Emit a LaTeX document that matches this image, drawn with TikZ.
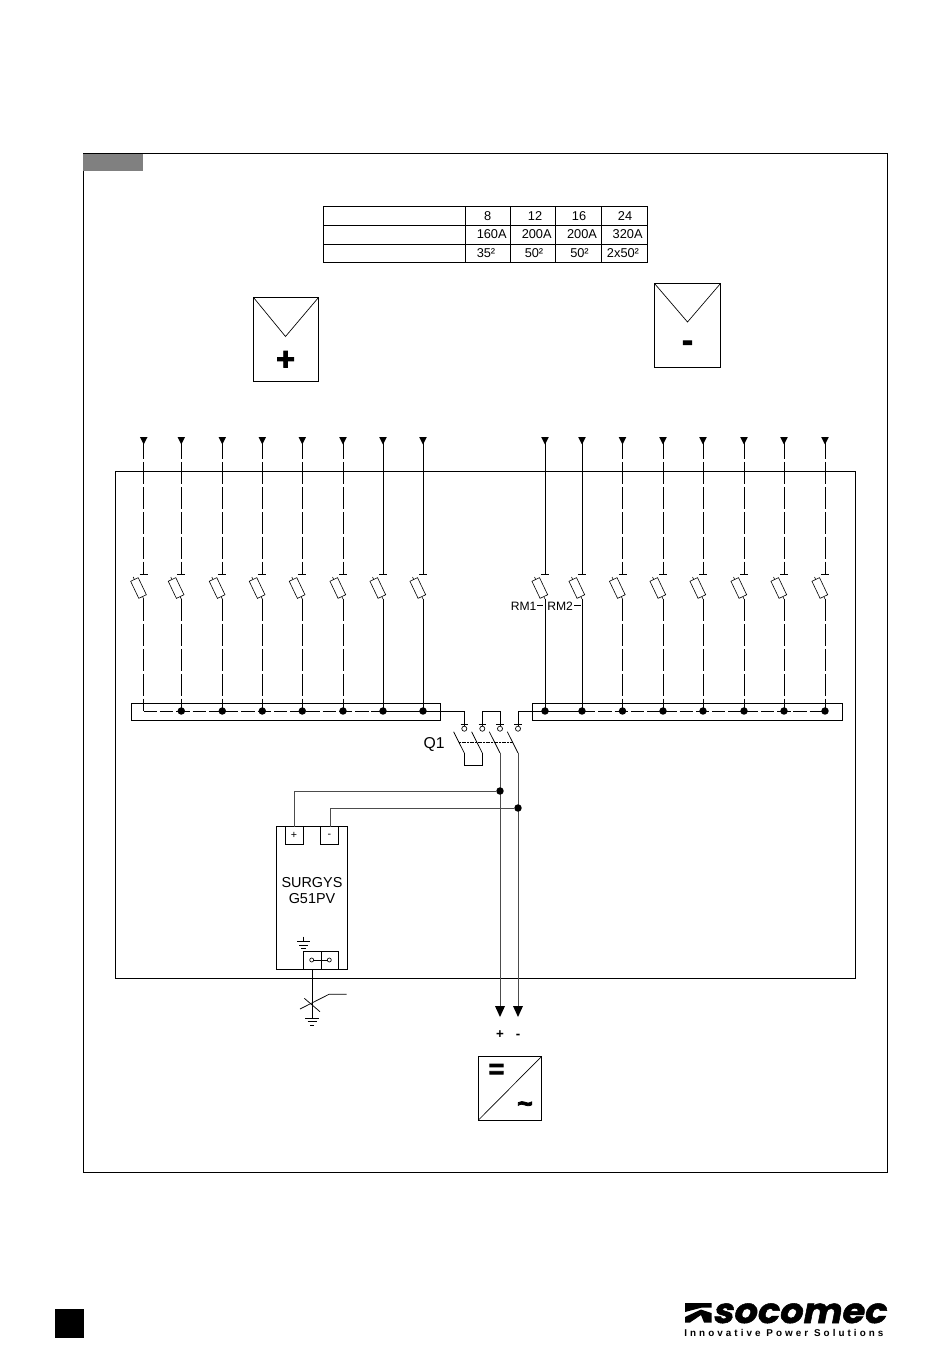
\documentclass[tikz,border=0pt]{standalone}
\usepackage{fontspec}
\setmainfont{Liberation Sans}
\newfontfamily\logofont[FakeSlant=0.18,FakeBold=1.5]{Poppins}
\newfontfamily\tagfont[LetterSpace=31]{Liberation Sans Bold}
\newfontfamily\heavyfont[FakeBold=3]{Liberation Sans Bold}
\usepackage{tikz}
\usetikzlibrary{calc}
\tikzset{
    wire/.style={line width=0.55pt},
    broken/.style={line width=0.55pt,dash pattern=on 16.5pt off 2.2pt},
    busdash/.style={line width=0.55pt,dash pattern=on 10pt off 2.2pt},
    greywire/.style={line width=0.6pt,black!70},
    box/.style={draw,line width=0.6pt},
    dot/.style={circle,fill=black,inner sep=0pt,minimum size=5.6pt},
    ring/.style={circle,draw,line width=0.5pt,inner sep=0pt,minimum size=3.8pt},
    fuse/.style={draw,fill=white,line width=0.45pt,rectangle,inner sep=0pt,minimum width=6.3pt,minimum height=14.2pt,rotate=25.5},
    label/.style={font=\fontsize{9.6pt}{11pt}\selectfont,inner sep=0pt},
}
\begin{document}
\begin{tikzpicture}[x=0.75pt,y=-0.75pt]
    \useasboundingbox (0,0) rectangle (950,1353);
    % frames
    \draw[line width=0.6pt] (83,153.5) rectangle (887,1172);
    \fill[black!50] (83,153.5) rectangle (143,171);
    \draw[wire] (115.5,471) rectangle (855,978);
    \fill (55,1309) rectangle (84,1338);

    % table
    \draw[line width=0.6pt] (323.5,206.5) rectangle (647,262.5);
    \foreach \y in {225.5,244}
        \draw[line width=0.6pt] (323.5,\y) -- (647,\y);
    \foreach \x in {465.5,510.5,555.5,601.5}
        \draw[line width=0.6pt] (\x,206.5) -- (\x,262.5);
    \foreach \x/\t in {487.7/8,535/12,579/16,625/24}
        \node[label] at (\x,216) {\t};
    \foreach \x/\t in {491.7/160A,536.7/200A,582/200A,627.6/320A}
        \node[label] at (\x,234.5) {\t};
    \foreach \x/\t in {486/35²,534/50²,579.5/50²,623/2x50²}
        \node[label] at (\x,253) {\t};

    % panels
    \draw[box] (253.5,297.5) rectangle (318.5,381.5);
    \draw[line width=0.5pt] (253.5,297.5) -- (285.5,336.5) -- (318.5,297.5);
    \node[inner sep=0pt,font=\fontsize{24pt}{24pt}\heavyfont] (plus) at (285.5,360.5) {+};
    \draw[box] (654.5,283.5) rectangle (720.5,367.5);
    \draw[line width=0.5pt] (654.5,283.5) -- (687.5,322) -- (720.5,283.5);
    \node[inner sep=0pt,font=\fontsize{24pt}{24pt}\heavyfont] (minus) at (687.5,346) {-};

    % bus bars
    \draw[box] (131.5,703) rectangle (440.5,720);
    \draw[box] (532.5,703) rectangle (842.5,720);

    % feeders
    \foreach \i/\x/\s in {1/143.7/broken,2/181.3/broken,3/222.3/broken,4/262.3/broken,5/302.3/broken,6/343/broken,7/383/wire,8/423/wire,
                          9/545/wire,10/582/wire,11/622.5/broken,12/663/broken,13/703/broken,14/744/broken,15/784/broken,16/825/broken}{
        \coordinate (top \i) at (\x,437);
        \coordinate (open \i) at (\x,574.3);
        \coordinate (low \i) at (\x,599);
        \coordinate (bar \i) at (\x,711);
        \fill ($(top \i)+(-3.8,0)$) -- ($(top \i)+(3.8,0)$) -- ($(top \i)+(0,7.5)$) -- cycle;
        \draw[\s] (top \i) -- (open \i);
        \draw[wire] ($(open \i)+(-4,0)$) -- ($(open \i)+(4,0)$);
        \draw[line width=0.45pt] (low \i) -- ($(low \i)+(-10.5,-22)$);
        \node[fuse] (fuse \i) at ($(low \i)+(-5.2,-11)$) {};
        \draw[\s] (low \i) -- (bar \i);
    }
    % runs along the bars
    \draw[busdash] (bar 1) -- (bar 7);
    \draw[busdash] (bar 10) -- (bar 16);
    \foreach \i in {2,...,16}
        \node[dot] (node \i) at (bar \i) {};

    % Q1
    \foreach \n/\x in {a/464.3,b/482.3,c/500,d/518}{
        \node[ring] (q\n) at (\x,728.7) {};
        \draw[wire] ($(q\n.north)+(-3.6,-1)$) -- ($(q\n.north)+(3.6,-1)$);
        \coordinate (in \n) at (\x,725.5);
        \coordinate (hinge \n) at (\x,753);
        \draw[wire] (hinge \n) -- ($(hinge \n)+(-10.7,-21.3)$);
    }
    \draw[wire] (bar 7) -| (in a);
    \draw[wire] (in b) |- (500,711) -- (in c);
    \draw[wire] (in d) |- (bar 9);
    \draw[wire] (bar 9) -- (bar 10);
    \draw[wire] (hinge a) -- (464.3,765.3) -| (hinge b);
    \draw[line width=0.4pt,dash pattern=on 1.5pt off 0.5pt] (459,742.3) -- (513,742.3);
    \node[inner sep=0pt,font=\fontsize{11.8pt}{12pt}\selectfont] (qone) at (434,744.5) {Q1};

    % RM labels
    \node[label,anchor=west,font=\fontsize{9.1pt}{11pt}\selectfont] (rmone) at (510.5,606) {RM1};
    \node[label,anchor=west,font=\fontsize{9.1pt}{11pt}\selectfont] (rmtwo) at (547,606) {RM2};
    \draw[line width=0.5pt] (537,605) -- (543,605);
    \draw[line width=0.5pt] (574,605) -- (581,605);

    % outputs
    \coordinate (out a) at (500,1006);
    \coordinate (out b) at (518,1006);
    \draw[greywire] (hinge c) -- (out a);
    \draw[greywire] (hinge d) -- (out b);
    \fill (495,1006) -- (505,1006) -- (500,1017) -- cycle;
    \fill (513,1006) -- (523,1006) -- (518,1017) -- cycle;
    \node[label,font=\fontsize{10pt}{10pt}\selectfont\bfseries] (pol a) at (500,1035) {+};
    \node[label,font=\fontsize{10pt}{10pt}\selectfont\bfseries] (pol b) at (518,1036) {-};

    % converter
    \draw[box] (478.5,1056.5) rectangle (541.5,1120);
    \draw[line width=0.5pt] (478.5,1120) -- (541.5,1056.5);
    \node[inner sep=0pt,font=\fontsize{20pt}{20pt}\heavyfont] (dc) at (496.5,1071) {=};
    \node[inner sep=0pt,font=\fontsize{20pt}{20pt}\heavyfont] (ac) at (525,1107) {\textasciitilde};

    % surge protector
    \draw[box] (276.5,826.5) rectangle (347.5,969.5);
    \draw[box] (285,826.5) rectangle (303,844);
    \draw[box] (320.7,826.5) rectangle (338.3,844);
    \node[font=\fontsize{8pt}{8pt}\selectfont,inner sep=0pt] at (294,835.5) {+};
    \node[font=\fontsize{8pt}{8pt}\selectfont,inner sep=0pt] at (329.5,835.5) {-};
    \node[align=center,inner sep=0pt,font=\fontsize{10.8pt}{12pt}\selectfont] (surgys) at (312,891) {SURGYS\\G51PV};
    \coordinate (spd a) at (294,826.5);
    \coordinate (spd b) at (330,826.5);
    \node[dot] (tap a) at (500,791) {};
    \node[dot] (tap b) at (518,808) {};
    \draw[greywire] (spd a) |- (tap a);
    \draw[greywire] (spd b) |- (tap b);

    % earth terminal
    \draw[box] (303,951.5) rectangle (338.5,969.5);
    \draw[wire] (321,951.5) -- (321,969.5);
    \node[ring,minimum size=3pt] (ea) at (311.7,960) {};
    \node[ring,minimum size=3pt] (eb) at (329.3,960) {};
    \draw[line width=0.5pt] (ea) -- (eb);
    \draw[line width=0.45pt] (303.3,936.5) -- (303.3,941.7);
    \draw[line width=0.45pt] (297,941.7) -- (309.6,941.7);
    \draw[line width=0.45pt] (299,945) -- (307.6,945);
    \draw[line width=0.45pt] (301,948) -- (305.6,948);
    \draw[wire] (312,969.5) -- (312,1018);
    \draw[wire] (305,1018) -- (319,1018);
    \draw[wire] (307.5,1021.7) -- (316.5,1021.7);
    \draw[wire] (310,1025.3) -- (314,1025.3);
    \draw[wire] (300,1009) -- (329,994.3) -- (346.7,994.3);
    \draw[wire] (304.3,998.3) -- (320,1011.7);

    % logo
    \fill (685,1303) -- (711.5,1303) -- (711.5,1307.5) -- (702,1307.5) -- (685,1312) -- cycle;
    \fill (685,1322.5) -- (685,1317) -- (701,1309.5) -- (711.5,1313) -- (711.5,1322.5) -- (704,1322.5) -- (701,1315) -- (690,1322.5) -- cycle;
    \node[inner sep=0pt,anchor=base west,xscale=1.06,font=\fontsize{26pt}{26pt}\logofont\bfseries] (brand) at (712,1323) {socomec};
    \node[inner sep=0pt,anchor=base west,font=\fontsize{7.4pt}{8pt}\tagfont] (tag) at (684,1336) {Innovative Power Solutions};
\end{tikzpicture}
\end{document}
